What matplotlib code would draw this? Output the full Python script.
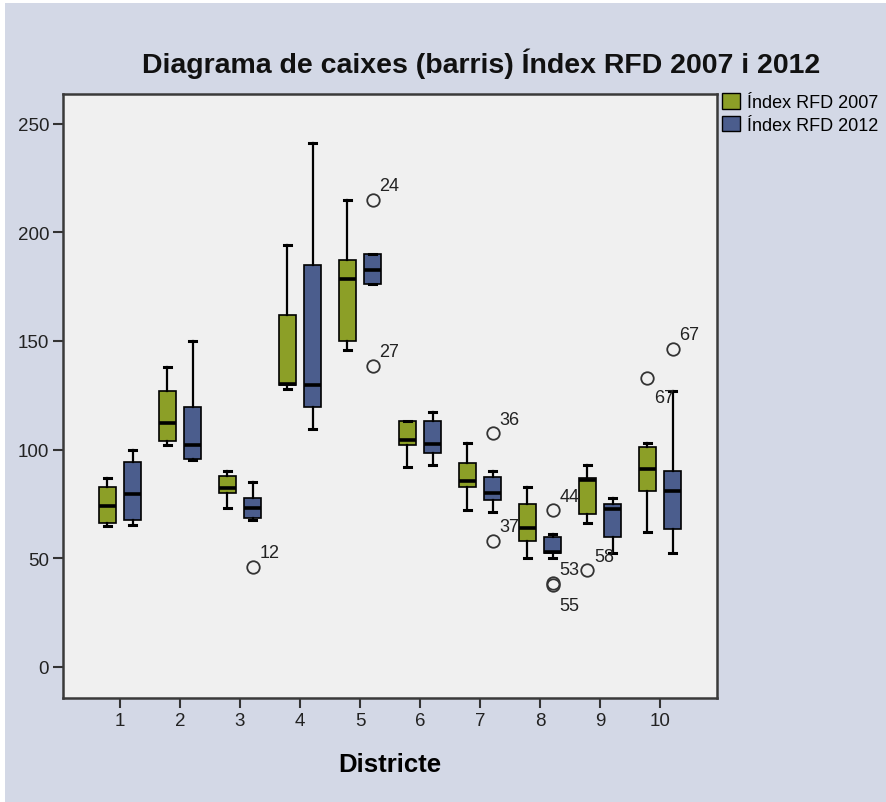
import matplotlib
matplotlib.use("Agg")
import matplotlib.pyplot as plt
from matplotlib.patches import Patch, Rectangle

plt.rcParams['font.family'] = ['Liberation Sans', 'DejaVu Sans']

# dades llegides del diagrama
districtes = [1, 2, 3, 4, 5, 6, 7, 8, 9, 10]

# (min bigoti, Q1, mediana, Q3, max bigoti)
rfd_2007 = [
    (65, 66, 74, 83, 87),
    (102, 104, 112, 127, 138),
    (73, 80, 82.5, 88, 90),
    (128, 129.5, 130, 162, 194),
    (146, 150, 178.5, 187, 215),
    (92, 102, 104.5, 113, 113),
    (72, 83, 85.5, 94, 103),
    (50, 58, 64, 75, 83),
    (66, 70.5, 86, 87, 93),
    (62, 81, 91, 101, 103),
]
rfd_2012 = [
    (65.5, 67.5, 79.5, 94.5, 100),
    (95, 95.5, 102, 119.5, 150),
    (67.5, 68.5, 73, 77.5, 85),
    (109.5, 119.5, 129.5, 185, 241),
    (176, 176, 182.7, 190, 190),
    (93, 98.5, 102.5, 113, 117.5),
    (71.5, 77, 80, 87.5, 90),
    (50, 52.5, 53, 60, 61),
    (52.5, 60, 72.5, 75, 77.5),
    (52.5, 63.5, 81, 90, 127),
]

# valors atípics: districte -> [(valor, id barri)]
atipics_2007 = {9: [(44.5, '58')], 10: [(133, '67')]}
atipics_2012 = {
    3: [(46, '12')],
    5: [(215, '24'), (138.5, '27')],
    7: [(107.5, '36'), (58, '37')],
    8: [(72, '44'), (38.5, '53'), (37.5, '55')],
    10: [(146.5, '67')],
}

series = [
    ('Índex RFD 2007', rfd_2007, atipics_2007, '#8c9f27', -0.21),
    ('Índex RFD 2012', rfd_2012, atipics_2012, '#4b5d8d', 0.21),
]

fig = plt.figure(figsize=(8.86, 8.03), dpi=100, facecolor='white')
fig.patches.append(Rectangle((5 / 886, 0), 1, 1 - 4 / 803, transform=fig.transFigure,
                             facecolor='#d3d8e6', edgecolor='none', zorder=-10))
ax = fig.add_axes([63 / 886, 1 - 699 / 803, 654 / 886, 604 / 803])
ax.set_facecolor('#f0f0f0')

for nom, dades, atipics, color, desp in series:
    stats = []
    for d, (lo, q1, med, q3, hi) in zip(districtes, dades):
        fl = [v for v, _ in atipics.get(d, [])]
        stats.append(dict(whislo=lo, q1=q1, med=med, q3=q3, whishi=hi, fliers=fl))
    pos = [d + desp for d in districtes]
    ax.bxp(stats, positions=pos, widths=0.28, patch_artist=True, showfliers=True,
           boxprops=dict(facecolor=color, edgecolor='black', linewidth=1.2),
           medianprops=dict(color='black', linewidth=2.6),
           whiskerprops=dict(color='black', linewidth=1.6),
           capprops=dict(color='black', linewidth=2.2),
           capwidths=0.11,
           flierprops=dict(marker='o', markerfacecolor='none', markeredgecolor='#333333',
                           markersize=9, markeredgewidth=1.3))
    for d, llista in atipics.items():
        for v, etiqueta in llista:
            dy = -20 if etiqueta == '55' or (etiqueta == '67' and desp < 0) else 14
            ax.annotate(etiqueta, (d + desp, v), xytext=(7, dy), textcoords='offset pixels',
                        ha='left', va='center', fontsize=13, color='#222222')

ax.set_xlim(0.05, 10.95)
ax.set_ylim(-14.3, 263.6)
ax.set_xticks(districtes)
ax.set_xticklabels([str(d) for d in districtes])
ax.set_yticks([0, 50, 100, 150, 200, 250])
ax.tick_params(axis='both', labelsize=13.5, length=7, width=1.5, color='#333333',
               labelcolor='#222222', pad=3)
for s in ax.spines.values():
    s.set_color('#3a3a3a')
    s.set_linewidth(1.8)

ax.set_xlabel('Districte', fontsize=18.5, fontweight='bold', labelpad=17)
fig.text(481 / 886, 1 - 64 / 803, 'Diagrama de caixes (barris) Índex RFD 2007 i 2012',
         ha='center', va='center', fontsize=20.5, fontweight='bold', color='#111111')

mans = [Patch(facecolor=c, edgecolor='black', label=n) for n, _, _, c, _ in series]
ax.legend(handles=mans, loc='upper left', bbox_to_anchor=(1.0, 1.01), frameon=False,
          fontsize=13, handlelength=0.95, handleheight=0.95, handletextpad=0.4,
          labelspacing=0.25, borderaxespad=0.2, borderpad=0.1)

fig.savefig('out.png', dpi=100, facecolor=fig.get_facecolor())
